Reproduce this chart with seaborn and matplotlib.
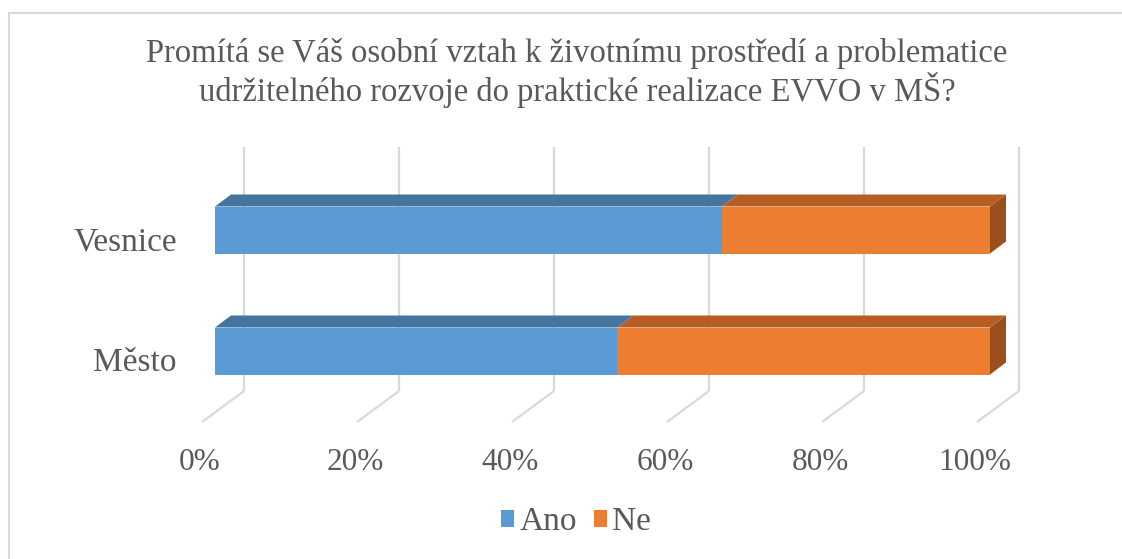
import numpy as np
import pandas as pd
import matplotlib
matplotlib.use("Agg")
import matplotlib.pyplot as plt
from matplotlib.patches import Polygon, Patch
from matplotlib.lines import Line2D
import seaborn as sns

# ---- data ----
categories = ["Vesnice", "Město"]
ano = [65.4, 51.9]   # % Ano
ne = [34.6, 48.1]    # % Ne
series_names = ["Ano", "Ne"]
tick_values = [0, 20, 40, 60, 80, 100]
tick_labels = ["0%", "20%", "40%", "60%", "80%", "100%"]
title = ("Promítá se Váš osobní vztah k životnímu prostředí a problematice\n"
         "udržitelného rozvoje do praktické realizace EVVO v MŠ?")

# ---- style ----
sns.set_theme(style="white")
plt.rcParams["font.family"] = ["Liberation Serif", "DejaVu Serif"]
TXT = "#595959"
GRID = "#D9D9D9"
C_ANO, C_ANO_TOP = "#5B9BD5", "#45749F"
C_NE, C_NE_TOP, C_NE_SIDE = "#ED7D31", "#B65E22", "#9A4F1D"
FS_TITLE = 23.5
FS_CAT = 24
FS_TICK = 22.5
FS_LEG = 24

W, H = 1122, 559
fig = plt.figure(figsize=(W / 100, H / 100), dpi=100)

# front-plane geometry in pixels
px0, px1 = 215, 990          # 0% and 100% on the front plane
py_cat0, py_step = 230, 121  # first category centre, spacing
ax_top_px, ax_bot_px = 140, 430
ax = fig.add_axes([px0 / W, 1 - ax_bot_px / H, (px1 - px0) / W, (ax_bot_px - ax_top_px) / H])

df = pd.DataFrame({"cat": categories,
                   "ano": np.array(ano) / 100.0,
                   "total": (np.array(ano) + np.array(ne)) / 100.0})

bar_w = 47 / py_step
sns.barplot(data=df, x="total", y="cat", color=C_NE, saturation=1, width=bar_w,
            orient="h", ax=ax, zorder=3, linewidth=0)
sns.barplot(data=df, x="ano", y="cat", color=C_ANO, saturation=1, width=bar_w,
            orient="h", ax=ax, zorder=3, linewidth=0)

ax.set_xlim(0, 1)
y_top = -(py_cat0 - ax_top_px) / py_step
y_bot = (ax_bot_px - py_cat0) / py_step
ax.set_ylim(y_bot, y_top)
ax.axis("off")

# pixel -> data helpers
sx = 1.0 / (px1 - px0)
sy = 1.0 / py_step
def ypx(py):
    return (py - py_cat0) / py_step

# depth of the bars
ddx, ddy = 16 * sx, -12 * sy

# gridlines on back wall + floor
for v, lab in zip(tick_values, tick_labels):
    xv = v / 100.0
    xb = xv + 29 * sx
    ax.plot([xb, xb], [ypx(147), ypx(391)], color=GRID, lw=1.6, zorder=1, clip_on=False,
            solid_capstyle="butt")
    ax.plot([xb, xv - 13 * sx], [ypx(391), ypx(422)], color=GRID, lw=1.6, zorder=1,
            clip_on=False, solid_capstyle="butt")
    ax.text(xv - 15 * sx, ypx(463), lab, ha="center",
            va="center", fontsize=FS_TICK, color=TXT, clip_on=False)

# 3D faces
for i, cat in enumerate(categories):
    yt = i - bar_w / 2
    yb = i + bar_w / 2
    a = ano[i] / 100.0
    t = (ano[i] + ne[i]) / 100.0
    for x0, x1, c in [(0, a, C_ANO_TOP), (a, t, C_NE_TOP)]:
        ax.add_patch(Polygon([(x0, yt), (x1, yt), (x1 + ddx, yt + ddy), (x0 + ddx, yt + ddy)],
                             closed=True, facecolor=c, edgecolor="none", zorder=4,
                             clip_on=False))
    ax.add_patch(Polygon([(t, yt), (t, yb), (t + ddx, yb + ddy), (t + ddx, yt + ddy)],
                         closed=True, facecolor=C_NE_SIDE, edgecolor="none", zorder=4,
                         clip_on=False))
    ax.text(-38 * sx, i + 12 * sy, cat, ha="right", va="center", fontsize=FS_CAT, color=TXT,
            clip_on=False)

# title
fig.text(577 / W, 1 - 73 / H, title, ha="center", va="center", fontsize=FS_TITLE, color=TXT,
         linespacing=1.13)

# legend
handles = [Patch(facecolor=C_ANO, edgecolor="none"), Patch(facecolor=C_NE, edgecolor="none")]
fig.legend(handles, series_names, loc="center", bbox_to_anchor=(576 / W, 1 - 522 / H),
           ncol=2, frameon=False, fontsize=FS_LEG, handlelength=0.4, handleheight=0.4,
           handletextpad=0.15, columnspacing=0.5, labelcolor=TXT)

# chart-area border (top and left visible)
fig.add_artist(Line2D([9 / W, 1], [1 - 13 / H, 1 - 13 / H], color=GRID, lw=1.5,
                      transform=fig.transFigure))
fig.add_artist(Line2D([9 / W, 9 / W], [1 - 13 / H, 0], color=GRID, lw=1.5,
                      transform=fig.transFigure))

fig.savefig("out.png", dpi=100)
